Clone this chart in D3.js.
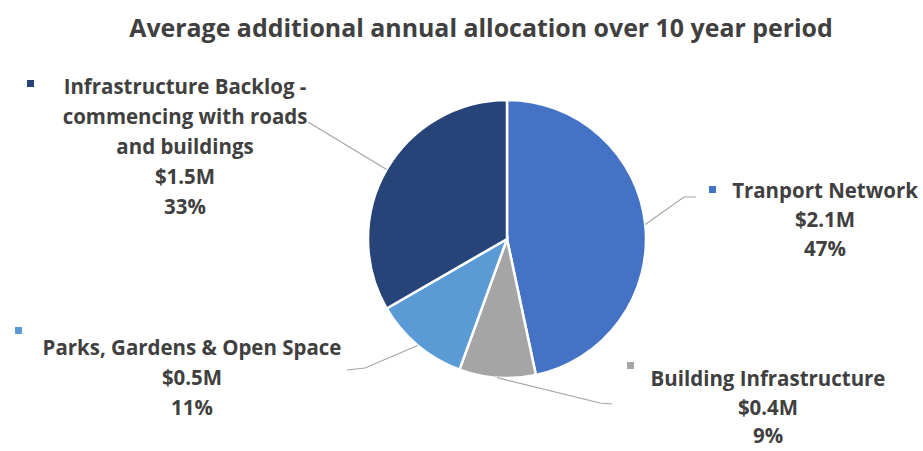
<!DOCTYPE html>
<html lang="en">
<head>
    <meta charset="UTF-8">
    <title>Average additional annual allocation</title>
    <style>
        body { margin: 0; background: #fff; }
        text { font-family: "Open Sans", Lato, sans-serif; font-weight: 700; }
    </style>
</head>
<body>
    <div id="container"></div>

    <script src="https://d3js.org/d3.v7.min.js"></script>
    <script>
        // data, in drawing order (clockwise from 12 o'clock)
        var categories = ["Tranport Network", "Building Infrastructure", "Parks, Gardens & Open Space", "Infrastructure Backlog - commencing with roads and buildings"];
        var values = [2.1, 0.4, 0.5, 1.5];          // $M
        var valueLabels = ["$2.1M", "$0.4M", "$0.5M", "$1.5M"];
        var percentLabels = ["47%", "9%", "11%", "33%"];
        var colors = ["#4472C4", "#A5A5A5", "#5B9BD5", "#264478"];

        var width = 923, height = 451;
        var cx = 507, cy = 239, radius = 139;

        // label boxes: name lines, centre x, first baseline, marker, leader elbow/end
        var labelLayout = [
            { lines: ["Tranport Network"], x: 825, y: 198, lh: 29, marker: [709, 186], elbow: [684, 197], end: [696, 197] },
            { lines: ["Building Infrastructure"], x: 768, y: 386, lh: 28.5, marker: [627, 362], elbow: [600, 403], end: [612, 404] },
            { lines: ["Parks, Gardens & Open Space"], x: 192, y: 355, lh: 30, marker: [15, 327], elbow: [365, 368], end: [347, 370] },
            { lines: ["Infrastructure Backlog -", "commencing with roads", "and buildings"], x: 185, y: 94, lh: 30, marker: [27, 80], elbow: null, end: [308, 122] }
        ];

        var svg = d3.select("#container").append("svg")
            .attr("width", width)
            .attr("height", height);

        // size a text so it spans a given width
        function fitSize(str, target, start) {
            var probe = svg.append("text").style("font-size", start + "px").text(str);
            var w = probe.node().getComputedTextLength();
            probe.remove();
            return start * target / w;
        }

        var titleText = "Average additional annual allocation over 10 year period";
        svg.append("text")
            .attr("x", 481)
            .attr("y", 37)
            .attr("text-anchor", "middle")
            .attr("fill", "#404040")
            .style("font-size", fitSize(titleText, 704, 22) + "px")
            .text(titleText);

        var labelSize = fitSize("Parks, Gardens & Open Space", 299, 17);

        var pie = d3.pie().sort(null).value(function(d) { return d; });
        var arcs = pie(values);

        var arc = d3.arc().innerRadius(0).outerRadius(radius);
        var edge = d3.arc().innerRadius(radius).outerRadius(radius);

        var g = svg.append("g").attr("transform", "translate(" + cx + "," + cy + ")");

        g.selectAll("path.slice")
            .data(arcs)
            .enter()
                .append("path")
                .attr("class", "slice")
                .attr("d", arc)
                .attr("fill", function(d, i) { return colors[i]; })
                .attr("stroke", "#fff")
                .attr("stroke-width", 2.5);

        // leader lines
        var line = d3.line();
        svg.selectAll("path.leader")
            .data(arcs)
            .enter()
                .append("path")
                .attr("class", "leader")
                .attr("d", function(d, i) {
                    var c = edge.centroid(d);
                    var L = labelLayout[i];
                    var pts = [[cx + c[0], cy + c[1]]];
                    if (L.elbow) pts.push(L.elbow);
                    pts.push(L.end);
                    return line(pts);
                })
                .attr("fill", "none")
                .attr("stroke", "#a6a6a6")
                .attr("stroke-width", 1.2);

        // labels
        labelLayout.forEach(function(L, i) {
            svg.append("rect")
                .attr("x", L.marker[0])
                .attr("y", L.marker[1])
                .attr("width", 7)
                .attr("height", 7)
                .attr("fill", colors[i]);

            var t = svg.append("text")
                .attr("text-anchor", "middle")
                .attr("fill", "#404040")
                .style("font-size", labelSize + "px");
            var rows = L.lines.concat([valueLabels[i], percentLabels[i]]);
            rows.forEach(function(r, k) {
                t.append("tspan")
                    .attr("x", L.x)
                    .attr("y", L.y + k * L.lh)
                    .text(r);
            });
        });
    </script>
</body>
</html>
